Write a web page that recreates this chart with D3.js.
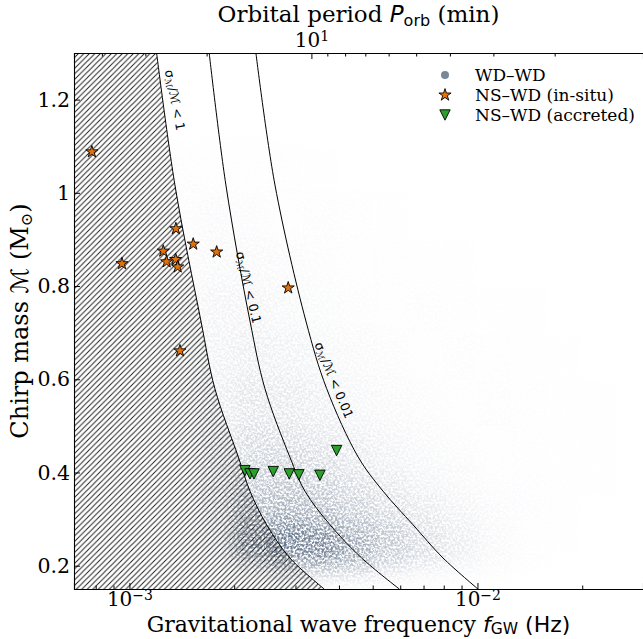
<!DOCTYPE html>
<html>
<head>
<meta charset="utf-8">
<script src="https://cdn.jsdelivr.net/npm/d3@7"></script>
<style>
  body { margin: 0; background: #fff; }
  svg text { fill: #000; }
</style>
</head>
<body>
<div id="chart"></div>
<script>
// ----------------------------------------------
// Data
// ----------------------------------------------

// NS-WD (in-situ) stars: GW frequency (Hz) and chirp mass (Msun)
var insituF = [7.80e-4, 9.52e-4, 1.360e-3, 1.525e-3, 1.781e-3, 1.251e-3, 1.358e-3, 1.279e-3, 1.376e-3, 2.859e-3, 1.397e-3];
var insituM = [1.088, 0.848, 0.923, 0.890, 0.873, 0.875, 0.857, 0.852, 0.841, 0.796, 0.661];

// NS-WD (accreted) triangles
var accretedF = [2.147e-3, 2.220e-3, 2.280e-3, 2.589e-3, 2.878e-3, 3.069e-3, 3.526e-3, 3.938e-3];
var accretedM = [0.404, 0.397, 0.397, 0.402, 0.397, 0.395, 0.394, 0.447];

// sigma_M/M contours, sampled at the same chirp masses
var contourM  = [1.3, 1.017, 0.725, 0.58, 0.433, 0.36, 0.288, 0.2166, 0.15];
var contour1F = [1.197e-3, 1.351e-3, 1.605e-3, 1.760e-3, 2.056e-3, 2.220e-3, 2.479e-3, 2.891e-3, 3.628e-3];
var contour2F = [1.695e-3, 1.893e-3, 2.220e-3, 2.451e-3, 2.891e-3, 3.193e-3, 3.768e-3, 4.647e-3, 5.962e-3];
var contour3F = [2.309e-3, 2.619e-3, 3.214e-3, 3.687e-3, 4.544e-3, 5.353e-3, 6.526e-3, 7.961e-3, 1.003e-2];
var contourLabels = ["1", "0.1", "0.01"];

// WD-WD population: density of points estimated on a grid
// columns: log10(f) bin edges, rows: chirp mass bin edges (bottom to top)
var cloudLogF = [-3.0, -2.9, -2.8, -2.7, -2.6, -2.5, -2.4, -2.3, -2.2, -2.1, -2.0, -1.9, -1.8, -1.7, -1.6, -1.5];
var cloudM = [0.15, 0.175, 0.2, 0.225, 0.25, 0.275, 0.3, 0.35, 0.4, 0.45, 0.5, 0.6, 0.7, 0.8, 0.9, 1.0, 1.1];
var cloudDensity = [
  [0, 0,    0,   0,   0.3, 0.4, 0.3, 0.2,  0.1,  0,    0,    0,    0,    0,    0],
  [0, 0,    0,   0.6, 2.2, 2.8, 2.2, 1.3,  0.6,  0.3,  0.1,  0,    0,    0,    0],
  [0, 0,    0.3, 3.5, 6.5, 6.5, 4.8, 3,    1.8,  1,    0.4,  0.1,  0,    0,    0],
  [0, 0,    0.6, 6.5, 9.5, 8.5, 5.8, 3.5,  2.2,  1.2,  0.5,  0.15, 0.05, 0,    0],
  [0, 0,    0.9, 6.5, 9,   7.5, 5.2, 3.5,  2.1,  1.2,  0.5,  0.15, 0.05, 0,    0],
  [0, 0,    1.1, 5.5, 7,   5.8, 4.2, 3,    1.9,  1,    0.4,  0.15, 0.05, 0,    0],
  [0, 0.1,  1.3, 4.3, 4.8, 4.2, 3.1, 2.1,  1.3,  0.7,  0.3,  0.1,  0.05, 0,    0],
  [0, 0.15, 1.3, 3.4, 3.6, 3,   2.1, 1.4,  0.8,  0.45, 0.2,  0.1,  0.05, 0.03, 0],
  [0, 0.2,  1.3, 2.7, 2.8, 2.2, 1.5, 0.9,  0.5,  0.3,  0.15, 0.08, 0.05, 0.03, 0],
  [0, 0.25, 1.2, 2.2, 2.1, 1.6, 1.1, 0.7,  0.4,  0.2,  0.12, 0.08, 0.05, 0.03, 0],
  [0, 0.3,  1.1, 1.6, 1.4, 1,   0.6, 0.4,  0.25, 0.15, 0.1,  0.06, 0.04, 0.02, 0],
  [0, 0.3,  0.9, 1.1, 0.9, 0.6, 0.4, 0.25, 0.15, 0.1,  0.06, 0.04, 0.02, 0.01, 0],
  [0, 0.3,  0.7, 0.7, 0.55, 0.35, 0.22, 0.15, 0.1, 0.06, 0.04, 0.02, 0,   0,    0],
  [0, 0.25, 0.5, 0.45, 0.3, 0.2, 0.12, 0.08, 0.05, 0.03, 0,   0,    0,    0,    0],
  [0, 0.2,  0.3, 0.25, 0.15, 0.1, 0.06, 0.03, 0,   0,    0,    0,    0,    0,    0],
  [0, 0.1,  0.15, 0.12, 0.08, 0.04, 0, 0,    0,    0,    0,    0,    0,    0,    0]
];

// axis ticks
var fMajor = [1e-3, 1e-2];
var fMajorExp = ["\u22123", "\u22122"];
var fMinor = [8e-4, 9e-4, 2e-3, 3e-3, 4e-3, 5e-3, 6e-3, 7e-3, 8e-3, 9e-3, 2e-2, 3e-2];
var mTicks = [0.2, 0.4, 0.6, 0.8, 1.0, 1.2];
var pMajor = [10];
var pMinor = [2, 3, 4, 5, 6, 7, 8, 9, 20, 30, 40];

// ----------------------------------------------
// Basic D3 Setup
// ----------------------------------------------
var svgWidth = 643;
var svgHeight = 639;
var plot = { left: 74, top: 53, right: 643, bottom: 589 };
var serif = "'DejaVu Serif', serif";
var sans = "'DejaVu Sans', sans-serif";

var svg = d3.select("#chart")
    .append("svg")
    .attr("width", svgWidth)
    .attr("height", svgHeight);

var fLim = [6.93e-4, 2.99e-2];
var x = d3.scaleLog().domain(fLim).range([plot.left, plot.right]);
var y = d3.scaleLinear().domain([0.15, 1.3]).range([plot.bottom, plot.top]);
// orbital period in minutes, P = 2 / f
var xTop = d3.scaleLog()
    .domain([2 / fLim[0] / 60, 2 / fLim[1] / 60])
    .range([plot.left, plot.right]);

var defs = svg.append("defs");
defs.append("clipPath").attr("id", "clip")
  .append("rect")
    .attr("x", plot.left).attr("y", plot.top)
    .attr("width", plot.right - plot.left).attr("height", plot.bottom - plot.top);

// blurred density broken into speckles, so it reads like a point cloud
var grain = defs.append("filter").attr("id", "grain")
    .attr("filterUnits", "userSpaceOnUse")
    .attr("x", 0).attr("y", 0).attr("width", svgWidth).attr("height", svgHeight);
grain.append("feGaussianBlur").attr("in", "SourceGraphic").attr("stdDeviation", 8).attr("result", "soft");
grain.append("feTurbulence")
    .attr("type", "fractalNoise").attr("baseFrequency", 0.45)
    .attr("numOctaves", 2).attr("seed", 7).attr("result", "noise");
grain.append("feColorMatrix").attr("in", "noise").attr("type", "matrix")
    .attr("values", "0 0 0 0 0  0 0 0 0 0  0 0 0 0 0  3.4 0 0 0 -1.15")
    .attr("result", "mask");
grain.append("feComposite").attr("in", "soft").attr("in2", "mask").attr("operator", "in");

var hatch = defs.append("pattern").attr("id", "hatch")
    .attr("patternUnits", "userSpaceOnUse")
    .attr("width", 5.5).attr("height", 5.5);
hatch.append("path")
    .attr("d", "M0,5.5 L5.5,0 M-1,1 L1,-1 M4.5,6.5 L6.5,4.5")
    .attr("stroke", "#1a1a1a").attr("stroke-width", 0.95);

var plotArea = svg.append("g").attr("clip-path", "url(#clip)");

// ----------------------------------------------
// WD-WD density cloud
// ----------------------------------------------
var cells = [];
cloudDensity.forEach(function (row, i) {
    row.forEach(function (v, j) {
        if (v > 0) cells.push({ i: i, j: j, v: v });
    });
});
plotArea.append("g")
    .attr("filter", "url(#grain)")
  .selectAll("rect")
    .data(cells)
    .enter()
    .append("rect")
    .attr("x", d => x(Math.pow(10, cloudLogF[d.j])))
    .attr("width", d => x(Math.pow(10, cloudLogF[d.j + 1])) - x(Math.pow(10, cloudLogF[d.j])))
    .attr("y", d => y(cloudM[d.i + 1]))
    .attr("height", d => y(cloudM[d.i]) - y(cloudM[d.i + 1]))
    .attr("fill", "#62738a")
    .attr("fill-opacity", d => Math.min(1, 0.115 * d.v));

// ----------------------------------------------
// Hatched region and contours
// ----------------------------------------------
var c1 = contour1F.map((f, i) => [f, contourM[i]]);
var c2 = contour2F.map((f, i) => [f, contourM[i]]);
var c3 = contour3F.map((f, i) => [f, contourM[i]]);

plotArea.append("path")
    .datum(c1)
    .attr("fill", "url(#hatch)")
    .attr("d", d3.area()
        .x0(plot.left - 2)
        .x1(d => x(d[0]))
        .y(d => y(d[1]))
        .curve(d3.curveCatmullRom.alpha(0.5)));

var line = d3.line()
    .x(d => x(d[0]))
    .y(d => y(d[1]))
    .curve(d3.curveCatmullRom.alpha(0.5));

plotArea.selectAll(".contour")
    .data([c1, c2, c3])
    .enter()
    .append("path")
    .attr("class", "contour")
    .attr("fill", "none")
    .attr("stroke", "#000")
    .attr("stroke-width", 1)
    .attr("d", line);

// contour labels: centre (f, M) and rotation in degrees
var labelPos = [
    { f: 1.352e-3, m: 1.199, rot: 79 },
    { f: 2.198e-3, m: 0.797, rot: 76.5 },
    { f: 3.870e-3, m: 0.598, rot: 67.5 }
];
labelPos.forEach(function (p, i) {
    var t = svg.append("text")
        .attr("transform", `translate(${x(p.f)},${y(p.m)}) rotate(${p.rot})`)
        .attr("text-anchor", "middle")
        .attr("dy", "0.35em")
        .style("font-family", sans)
        .style("font-size", "12.5px");
    t.append("tspan").text("\u03c3");
    t.append("tspan").attr("baseline-shift", "-25%").style("font-size", "9px").text("\u2133");
    t.append("tspan").text("/\u2133 < " + contourLabels[i]);
});

// ----------------------------------------------
// NS-WD markers
// ----------------------------------------------
var star = d3.symbol().type(d3.symbolStar).size(46);
svg.selectAll(".insitu")
    .data(insituF)
    .enter()
    .append("path")
    .attr("class", "insitu")
    .attr("d", star)
    .attr("transform", (d, i) => `translate(${x(d)},${y(insituM[i])})`)
    .attr("fill", "#e3720b")
    .attr("stroke", "#000")
    .attr("stroke-width", 0.9);

var tri = "M-5.2,-5.2 L5.2,-5.2 L0,5.2 Z";
svg.selectAll(".accreted")
    .data(accretedF)
    .enter()
    .append("path")
    .attr("class", "accreted")
    .attr("d", tri)
    .attr("transform", (d, i) => `translate(${x(d)},${y(accretedM[i])})`)
    .attr("fill", "#2ca02c")
    .attr("stroke", "#000")
    .attr("stroke-width", 0.9);

// ----------------------------------------------
// Axes
// ----------------------------------------------
var yAxis = svg.append("g")
    .attr("transform", `translate(${plot.left},0)`)
    .call(d3.axisLeft(y)
        .tickValues(mTicks)
        .tickSize(-6)
        .tickPadding(4)
        .tickFormat(d => d === 1 ? "1" : d3.format(".1f")(d)));
yAxis.selectAll("text")
    .style("font-family", serif)
    .style("font-size", "20.5px");

var xAxis = svg.append("g")
    .attr("transform", `translate(0,${plot.bottom})`)
    .call(d3.axisBottom(x).tickValues(fMajor).tickSize(-6).tickFormat(""));
svg.append("g")
    .attr("transform", `translate(0,${plot.bottom})`)
    .call(d3.axisBottom(x).tickValues(fMinor).tickSize(-3.5).tickFormat(""))
    .select(".domain").remove();
xAxis.selectAll(".tick").each(function (d, i) {
    var t = d3.select(this).append("text")
        .attr("y", 17)
        .attr("text-anchor", "middle")
        .style("font-family", serif)
        .style("font-size", "20px");
    t.append("tspan").text("10");
    t.append("tspan").attr("baseline-shift", "42%").style("font-size", "14px").text(fMajorExp[i]);
});

var topAxis = svg.append("g")
    .attr("transform", `translate(0,${plot.top})`)
    .call(d3.axisTop(xTop).tickValues(pMajor).tickSize(-6).tickFormat(""));
svg.append("g")
    .attr("transform", `translate(0,${plot.top})`)
    .call(d3.axisTop(xTop).tickValues(pMinor).tickSize(-3.5).tickFormat(""))
    .select(".domain").remove();
topAxis.selectAll(".tick").each(function () {
    var t = d3.select(this).append("text")
        .attr("y", -6)
        .attr("text-anchor", "middle")
        .style("font-family", serif)
        .style("font-size", "20px");
    t.append("tspan").text("10");
    t.append("tspan").attr("baseline-shift", "42%").style("font-size", "14px").text("1");
});

svg.selectAll(".domain").attr("stroke-width", 1.1);
svg.selectAll(".tick line").attr("stroke-width", 1);

// ----------------------------------------------
// Axis labels
// ----------------------------------------------
var cx = (plot.left + plot.right) / 2;
var xl = svg.append("text")
    .attr("x", cx).attr("y", 632)
    .attr("text-anchor", "middle")
    .style("font-family", serif)
    .style("font-size", "22px");
xl.append("tspan").text("Gravitational wave frequency ");
xl.append("tspan").style("font-family", sans).style("font-style", "italic").text("f");
xl.append("tspan").style("font-family", sans).style("font-size", "15.5px").attr("baseline-shift", "-15%").text("GW");
xl.append("tspan").style("font-family", sans).text(" (Hz)");

var tl = svg.append("text")
    .attr("x", cx).attr("y", 22)
    .attr("text-anchor", "middle")
    .style("font-family", serif)
    .style("font-size", "23px");
tl.append("tspan").text("Orbital period ");
tl.append("tspan").style("font-family", sans).style("font-style", "italic").text("P");
tl.append("tspan").style("font-family", sans).style("font-size", "16px").attr("baseline-shift", "-22%").text("orb");
tl.append("tspan").text(" (min)");

var yl = svg.append("text")
    .attr("transform", `translate(28,${(plot.top + plot.bottom) / 2}) rotate(-90)`)
    .attr("text-anchor", "middle")
    .style("font-family", serif)
    .style("font-size", "24px");
yl.append("tspan").text("Chirp mass ");
yl.append("tspan").style("font-family", sans).text("\u2133");
yl.append("tspan").text(" (M");
yl.append("tspan").style("font-size", "16px").attr("baseline-shift", "-22%").text("\u2299");
yl.append("tspan").text(")");

// ----------------------------------------------
// Legend
// ----------------------------------------------
var legendItems = ["WD\u2013WD", "NS\u2013WD (in-situ)", "NS\u2013WD (accreted)"];
var legend = svg.append("g").attr("transform", "translate(445,75)");
legendItems.forEach(function (label, i) {
    var g = legend.append("g").attr("transform", `translate(0,${i * 20})`);
    if (i === 0) {
        g.append("circle").attr("r", 4).attr("fill", "#778899");
    } else if (i === 1) {
        g.append("path").attr("d", star).attr("fill", "#e3720b").attr("stroke", "#000").attr("stroke-width", 0.9);
    } else {
        g.append("path").attr("d", tri).attr("fill", "#2ca02c").attr("stroke", "#000").attr("stroke-width", 0.9);
    }
    g.append("text")
        .attr("x", 30).attr("dy", "0.35em")
        .style("font-family", serif)
        .style("font-size", "17px")
        .text(label);
});
</script>
</body>
</html>
